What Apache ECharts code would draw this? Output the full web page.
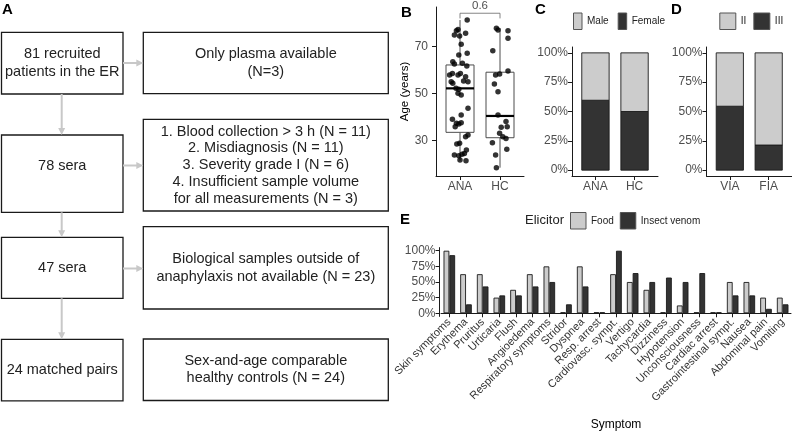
<!DOCTYPE html>
<html><head><meta charset="utf-8">
<script src="https://cdn.jsdelivr.net/npm/echarts@6/dist/echarts.min.js"></script>
<style>html,body{margin:0;padding:0;background:#fff}#c{width:792px;height:432px}</style>
</head><body><div id="c"></div><script>
// ---------- data ----------
const flowLeftText = [['81 recruited','patients in the ER'],['78 sera'],['47 sera'],['24 matched pairs']];
const flowRightText = [
  ['Only plasma available','(N=3)'],
  ['1. Blood collection > 3 h (N = 11)','2. Misdiagnosis (N = 11)','3. Severity grade I (N = 6)','4. Insufficient sample volume','for all measurements (N = 3)'],
  ['Biological samples outside of','anaphylaxis not available (N = 23)'],
  ['Sex-and-age comparable','healthy controls (N = 24)']
];
const ageGroups = ['ANA','HC'];
const anaPoints = [[1.18,81.4],[0.91,76.8],[0.95,77.4],[0.86,75.0],[0.99,74.6],[1.14,75.7],[1.03,71.0],[1.18,67.2],[0.97,66.5],[0.82,63.6],[0.86,62.6],[1.06,62.9],[1.17,61.8],[0.74,57.9],[0.81,58.6],[0.95,57.9],[1.01,58.6],[1.14,57.2],[0.78,55.0],[0.82,54.4],[1.09,55.3],[1.20,55.0],[0.90,52.2],[0.97,51.8],[0.95,50.1],[1.03,49.4],[1.20,43.7],[1.03,40.8],[0.81,39.0],[0.91,37.3],[0.97,37.0],[1.03,37.5],[0.88,35.8],[1.20,32.3],[1.14,31.5],[0.99,28.7],[0.92,28.4],[1.16,25.9],[1.11,24.4],[0.86,23.7],[0.97,23.4],[1.05,24.0],[1.15,21.3],[1.00,21.6]];
const hcPoints = [[1.91,77.9],[1.95,77.1],[2.20,76.8],[2.20,73.6],[1.82,68.3],[2.20,59.6],[1.99,58.3],[1.89,57.9],[1.86,54.1],[1.95,50.8],[1.95,40.8],[2.15,38.0],[2.18,35.8],[2.03,35.6],[1.99,33.0],[2.07,31.5],[2.15,30.8],[1.81,29.0],[2.17,26.2],[1.89,23.7],[1.91,18.3]];
const anaBox = [21.3,33.4,52.2,62.2,81.4];   // min, Q1, median, Q3, max
const hcBox  = [18.3,31.1,40.4,59.1,77.9];
const ageTicks = [30,50,70];
const pValue = '0.6';
const sexGroups = ['ANA','HC'];
const malePct = [40.4,50];
const femalePct = [59.6,50];
const gradeGroups = ['VIA','FIA'];
const gradeIIPct = [45.5,78.6];
const gradeIIIPct = [54.5,21.4];
const pctTicks = [0,25,50,75,100];
const symptoms = ['Skin symptoms','Erythema','Pruritus','Urticaria','Flush','Angioedema','Respiratory symptoms','Stridor','Dyspnea','Resp. arrest','Cardiovasc. sympt.','Vertigo','Tachycardia','Dizziness','Hypotension','Unconsciousness','Cardiac arrest','Gastrointestinal sympt.','Nausea','Abdominal pain','Vomiting'];
const foodPct  = [100,62.5,62.5,25,37.5,62.5,75,0,75,0,62.5,50,37.5,0,12.5,0,0,50,50,25,25];
const venomPct = [92.9,14.3,42.9,28.6,28.6,42.9,50,14.3,42.9,0,100,64.3,50,57.1,50,64.3,0,28.6,28.6,7.1,14.3];

// ---------- styles ----------
const FONT = '"Liberation Sans", Arial, Helvetica, sans-serif';
const LIGHT = '#cccccc', DARK = '#333333', EDGE = '#1a1a1a';
const AX = '#1a1a1a', TXT = '#4d4d4d';

// ---------- flowchart graphics ----------
const graphics = [];
const leftBoxes = [{y:32.3,h:61.7,ty:63},{y:135,h:77.3,ty:165.7},{y:237.3,h:61,ty:267.8},{y:339.3,h:61.5,ty:370}];
const rightBoxes = [{y:32.3,h:61.4},{y:119.3,h:91.7},{y:226.7,h:82.3},{y:339,h:61.5}];
const LX = 1.5, LW = 121.5, RX = 143.3, RW = 245;
const ARROW = '#c8c8c8';
function arrowDown(x, y1, y2){
  graphics.push({type:'line', shape:{x1:x,y1:y1,x2:x,y2:y2-6}, style:{stroke:ARROW, lineWidth:2}});
  graphics.push({type:'polygon', shape:{points:[[x-3.5,y2-7],[x+3.5,y2-7],[x,y2]]}, style:{fill:ARROW}});
}
function arrowRight(y, x1, x2){
  graphics.push({type:'line', shape:{x1:x1,y1:y,x2:x2-6,y2:y}, style:{stroke:ARROW, lineWidth:2}});
  graphics.push({type:'polygon', shape:{points:[[x2-7,y-3.5],[x2-7,y+3.5],[x2,y]]}, style:{fill:ARROW}});
}
leftBoxes.forEach((b,i)=>{
  graphics.push({type:'rect', shape:{x:LX,y:b.y,width:LW,height:b.h}, style:{fill:'#fff', stroke:EDGE, lineWidth:1.3}});
  graphics.push({type:'text', x:LX+LW/2, y:b.ty, style:{text:flowLeftText[i].join('\n'), fontSize:14.5, fontFamily:FONT, fill:'#222', align:'center', verticalAlign:'middle', lineHeight:17.4}});
});
rightBoxes.forEach((b,i)=>{
  graphics.push({type:'rect', shape:{x:RX,y:b.y,width:RW,height:b.h}, style:{fill:'#fff', stroke:EDGE, lineWidth:1.3}});
  graphics.push({type:'text', x:RX+RW/2, y:b.y+b.h/2, style:{text:flowRightText[i].join('\n'), fontSize:14.5, fontFamily:FONT, fill:'#222', align:'center', verticalAlign:'middle', lineHeight:i===1?16.7:17.4}});
});
arrowDown(61.7, 94, 135);
arrowDown(61.7, 212.3, 237.3);
arrowDown(61.7, 298.3, 339.3);
arrowRight(63, 123, 143.3);
arrowRight(165.5, 123, 143.3);
arrowRight(268.5, 123, 143.3);
// panel letters
[['A',2,2],['B',401,5],['C',535,2],['D',671,2],['E',400,212]].forEach(l=>{
  graphics.push({type:'text', x:l[1], y:l[2], style:{text:l[0], fontSize:15, fontWeight:'bold', fontFamily:FONT, fill:'#000', align:'left', verticalAlign:'top'}});
});
graphics.push({type:'text', x:525, y:220, style:{text:'Elicitor', fontSize:13, fontFamily:FONT, fill:'#222', align:'left', verticalAlign:'middle'}});

// ---------- axes helpers ----------
function valueX(gi, cats, margin){
  return {type:'value', gridIndex:gi, min:0.4, max:2.6,
    axisLine:{show:true, onZero:false, lineStyle:{color:AX, width:1}},
    axisTick:{show:true, customValues:[1,2], length:4, lineStyle:{color:AX}},
    axisLabel:{customValues:[1,2], formatter:v=>cats[Math.round(v)-1], fontSize:12, color:TXT, fontFamily:FONT, margin:margin},
    splitLine:{show:false}};
}
function pctY(gi, offset){
  return {type:'value', gridIndex:gi, min:-5, max:105, offset:offset||0,
    axisLine:{show:true, lineStyle:{color:AX, width:1}},
    axisTick:{show:true, customValues:pctTicks, length:4, lineStyle:{color:AX}},
    axisLabel:{customValues:pctTicks, formatter:v=>v+'%', fontSize:12, color:TXT, fontFamily:FONT, margin:4},
    splitLine:{show:false}};
}
const barStyle = c => ({color:c, borderColor:EDGE, borderWidth:0.9});

function renderBox(params, api){
  const x = api.value(0);
  const pMin = api.coord([x, api.value(1)]);
  const pQ1 = api.coord([x, api.value(2)]);
  const pMed = api.coord([x, api.value(3)]);
  const pQ3 = api.coord([x, api.value(4)]);
  const pMax = api.coord([x, api.value(5)]);
  const hw = api.size([0.7, 0])[0] / 2;
  const st = {stroke:'#4d4d4d', lineWidth:1};
  return {type:'group', children:[
    {type:'line', shape:{x1:pMin[0],y1:pMin[1],x2:pQ1[0],y2:pQ1[1]}, style:st},
    {type:'line', shape:{x1:pQ3[0],y1:pQ3[1],x2:pMax[0],y2:pMax[1]}, style:st},
    {type:'rect', shape:{x:pQ3[0]-hw, y:pQ3[1], width:2*hw, height:pQ1[1]-pQ3[1]}, style:{fill:'#fff', stroke:'#4d4d4d', lineWidth:1}},
    {type:'line', shape:{x1:pMed[0]-hw,y1:pMed[1],x2:pMed[0]+hw,y2:pMed[1]}, style:{stroke:'#000', lineWidth:2.2}}
  ]};
}
// stacked bar segment: [x, bottom, top]
function stackRenderer(fill){
  return function(params, api){
    const x = api.value(0);
    const p0 = api.coord([x, api.value(1)]);
    const p1 = api.coord([x, api.value(2)]);
    const w = api.size([0.7, 0])[0];
    return {type:'rect', shape:{x:p0[0]-w/2, y:p1[1], width:w, height:p0[1]-p1[1]}, style:{fill:fill, stroke:EDGE, lineWidth:0.9}};
  };
}
const stackBottom = (arr) => arr.map((v,i)=>[i+1, 0, v]);
const stackTop = (base, arr) => arr.map((v,i)=>[i+1, base[i], base[i]+v]);

const legendCommon = {icon:'rect', padding:0, itemHeight:16.5, textStyle:{fontSize:10, color:'#222', fontFamily:FONT}, itemStyle:{borderColor:'#555', borderWidth:1}, selectedMode:false, orient:'horizontal'};

const option = {
  animation:false,
  textStyle:{fontFamily:FONT},
  graphic:graphics,
  grid:[
    {left:436, top:7, width:88, height:169},
    {left:572, top:47, width:86, height:129},
    {left:706.5, top:47, width:86, height:129},
    {left:441, top:247.6, width:350, height:68.8}
  ],
  legend:[
    Object.assign({}, legendCommon, {left:573, top:12.5, width:120, itemWidth:8.5, itemGap:9, data:['Male','Female']}),
    Object.assign({}, legendCommon, {left:719.3, top:12.5, width:120, itemWidth:16, itemGap:7, data:['II','III']}),
    Object.assign({}, legendCommon, {left:570, top:212, width:200, itemWidth:15.5, itemGap:6, data:['Food','Insect venom']})
  ],
  xAxis:[
    valueX(0, ageGroups, 5),
    valueX(1, sexGroups, 5),
    valueX(2, gradeGroups, 5),
    {type:'category', gridIndex:3, data:symptoms, boundaryGap:true,
      axisLine:{show:true, lineStyle:{color:AX, width:1}},
      axisTick:{show:true, alignWithLabel:true, length:4, lineStyle:{color:AX}},
      axisLabel:{rotate:45, interval:0, fontSize:11, color:'#333', fontFamily:FONT, margin:4},
      name:'Symptom', nameLocation:'middle', nameGap:102, nameTextStyle:{fontSize:12, color:'#000', fontFamily:FONT},
      splitLine:{show:false}}
  ],
  yAxis:[
    {type:'value', gridIndex:0, min:14.74, max:86.97,
      axisLine:{show:true, lineStyle:{color:AX, width:1}},
      axisTick:{show:true, customValues:ageTicks, length:4, lineStyle:{color:AX}},
      axisLabel:{customValues:ageTicks, fontSize:12, color:TXT, fontFamily:FONT, margin:8},
      name:'Age (years)', nameLocation:'middle', nameGap:19, nameRotate:90, nameTextStyle:{fontSize:11.5, color:'#000', fontFamily:FONT},
      splitLine:{show:false}},
    pctY(1), pctY(2), pctY(3, 1.5)
  ],
  series:[
    {type:'custom', xAxisIndex:0, yAxisIndex:0, renderItem:renderBox,
      data:[[1].concat(anaBox),[2].concat(hcBox)], encode:{x:0, y:[1,2,3,4,5]}, silent:true, z:2},
    {type:'scatter', xAxisIndex:0, yAxisIndex:0, data:anaPoints.concat(hcPoints), symbolSize:5.5, itemStyle:{color:'#000'}, silent:true, z:3},
    {type:'line', xAxisIndex:0, yAxisIndex:0, data:[[1,82.1],[1,84.3],[2,84.3],[2,82.1]], symbol:'none', lineStyle:{color:'#666', width:0.8}, silent:true, z:3},
    {type:'scatter', xAxisIndex:0, yAxisIndex:0, data:[[1.5,84.3]], symbolSize:0, silent:true,
      label:{show:true, position:'top', distance:1, formatter:pValue, fontSize:11.5, color:'#222', fontFamily:FONT}},
    {type:'custom', name:'Female', xAxisIndex:1, yAxisIndex:1, renderItem:stackRenderer(DARK), data:stackBottom(femalePct), encode:{x:0, y:[1,2]}, itemStyle:{color:DARK}, silent:true},
    {type:'custom', name:'Male', xAxisIndex:1, yAxisIndex:1, renderItem:stackRenderer(LIGHT), data:stackTop(femalePct, malePct), encode:{x:0, y:[1,2]}, itemStyle:{color:LIGHT}, silent:true},
    {type:'custom', name:'III', xAxisIndex:2, yAxisIndex:2, renderItem:stackRenderer(DARK), data:stackBottom(gradeIIIPct), encode:{x:0, y:[1,2]}, itemStyle:{color:DARK}, silent:true},
    {type:'custom', name:'II', xAxisIndex:2, yAxisIndex:2, renderItem:stackRenderer(LIGHT), data:stackTop(gradeIIIPct, gradeIIPct), encode:{x:0, y:[1,2]}, itemStyle:{color:LIGHT}, silent:true},
    {type:'bar', name:'Food', xAxisIndex:3, yAxisIndex:3, barWidth:5.8, barGap:'0%', barMinHeight:1, data:foodPct, itemStyle:barStyle(LIGHT)},
    {type:'bar', name:'Insect venom', xAxisIndex:3, yAxisIndex:3, barWidth:5.8, barGap:'0%', barMinHeight:1, data:venomPct, itemStyle:barStyle(DARK)}
  ]
};
const chart = echarts.init(document.getElementById('c'), null, {renderer:'canvas'});
chart.setOption(option);
</script></body></html>
